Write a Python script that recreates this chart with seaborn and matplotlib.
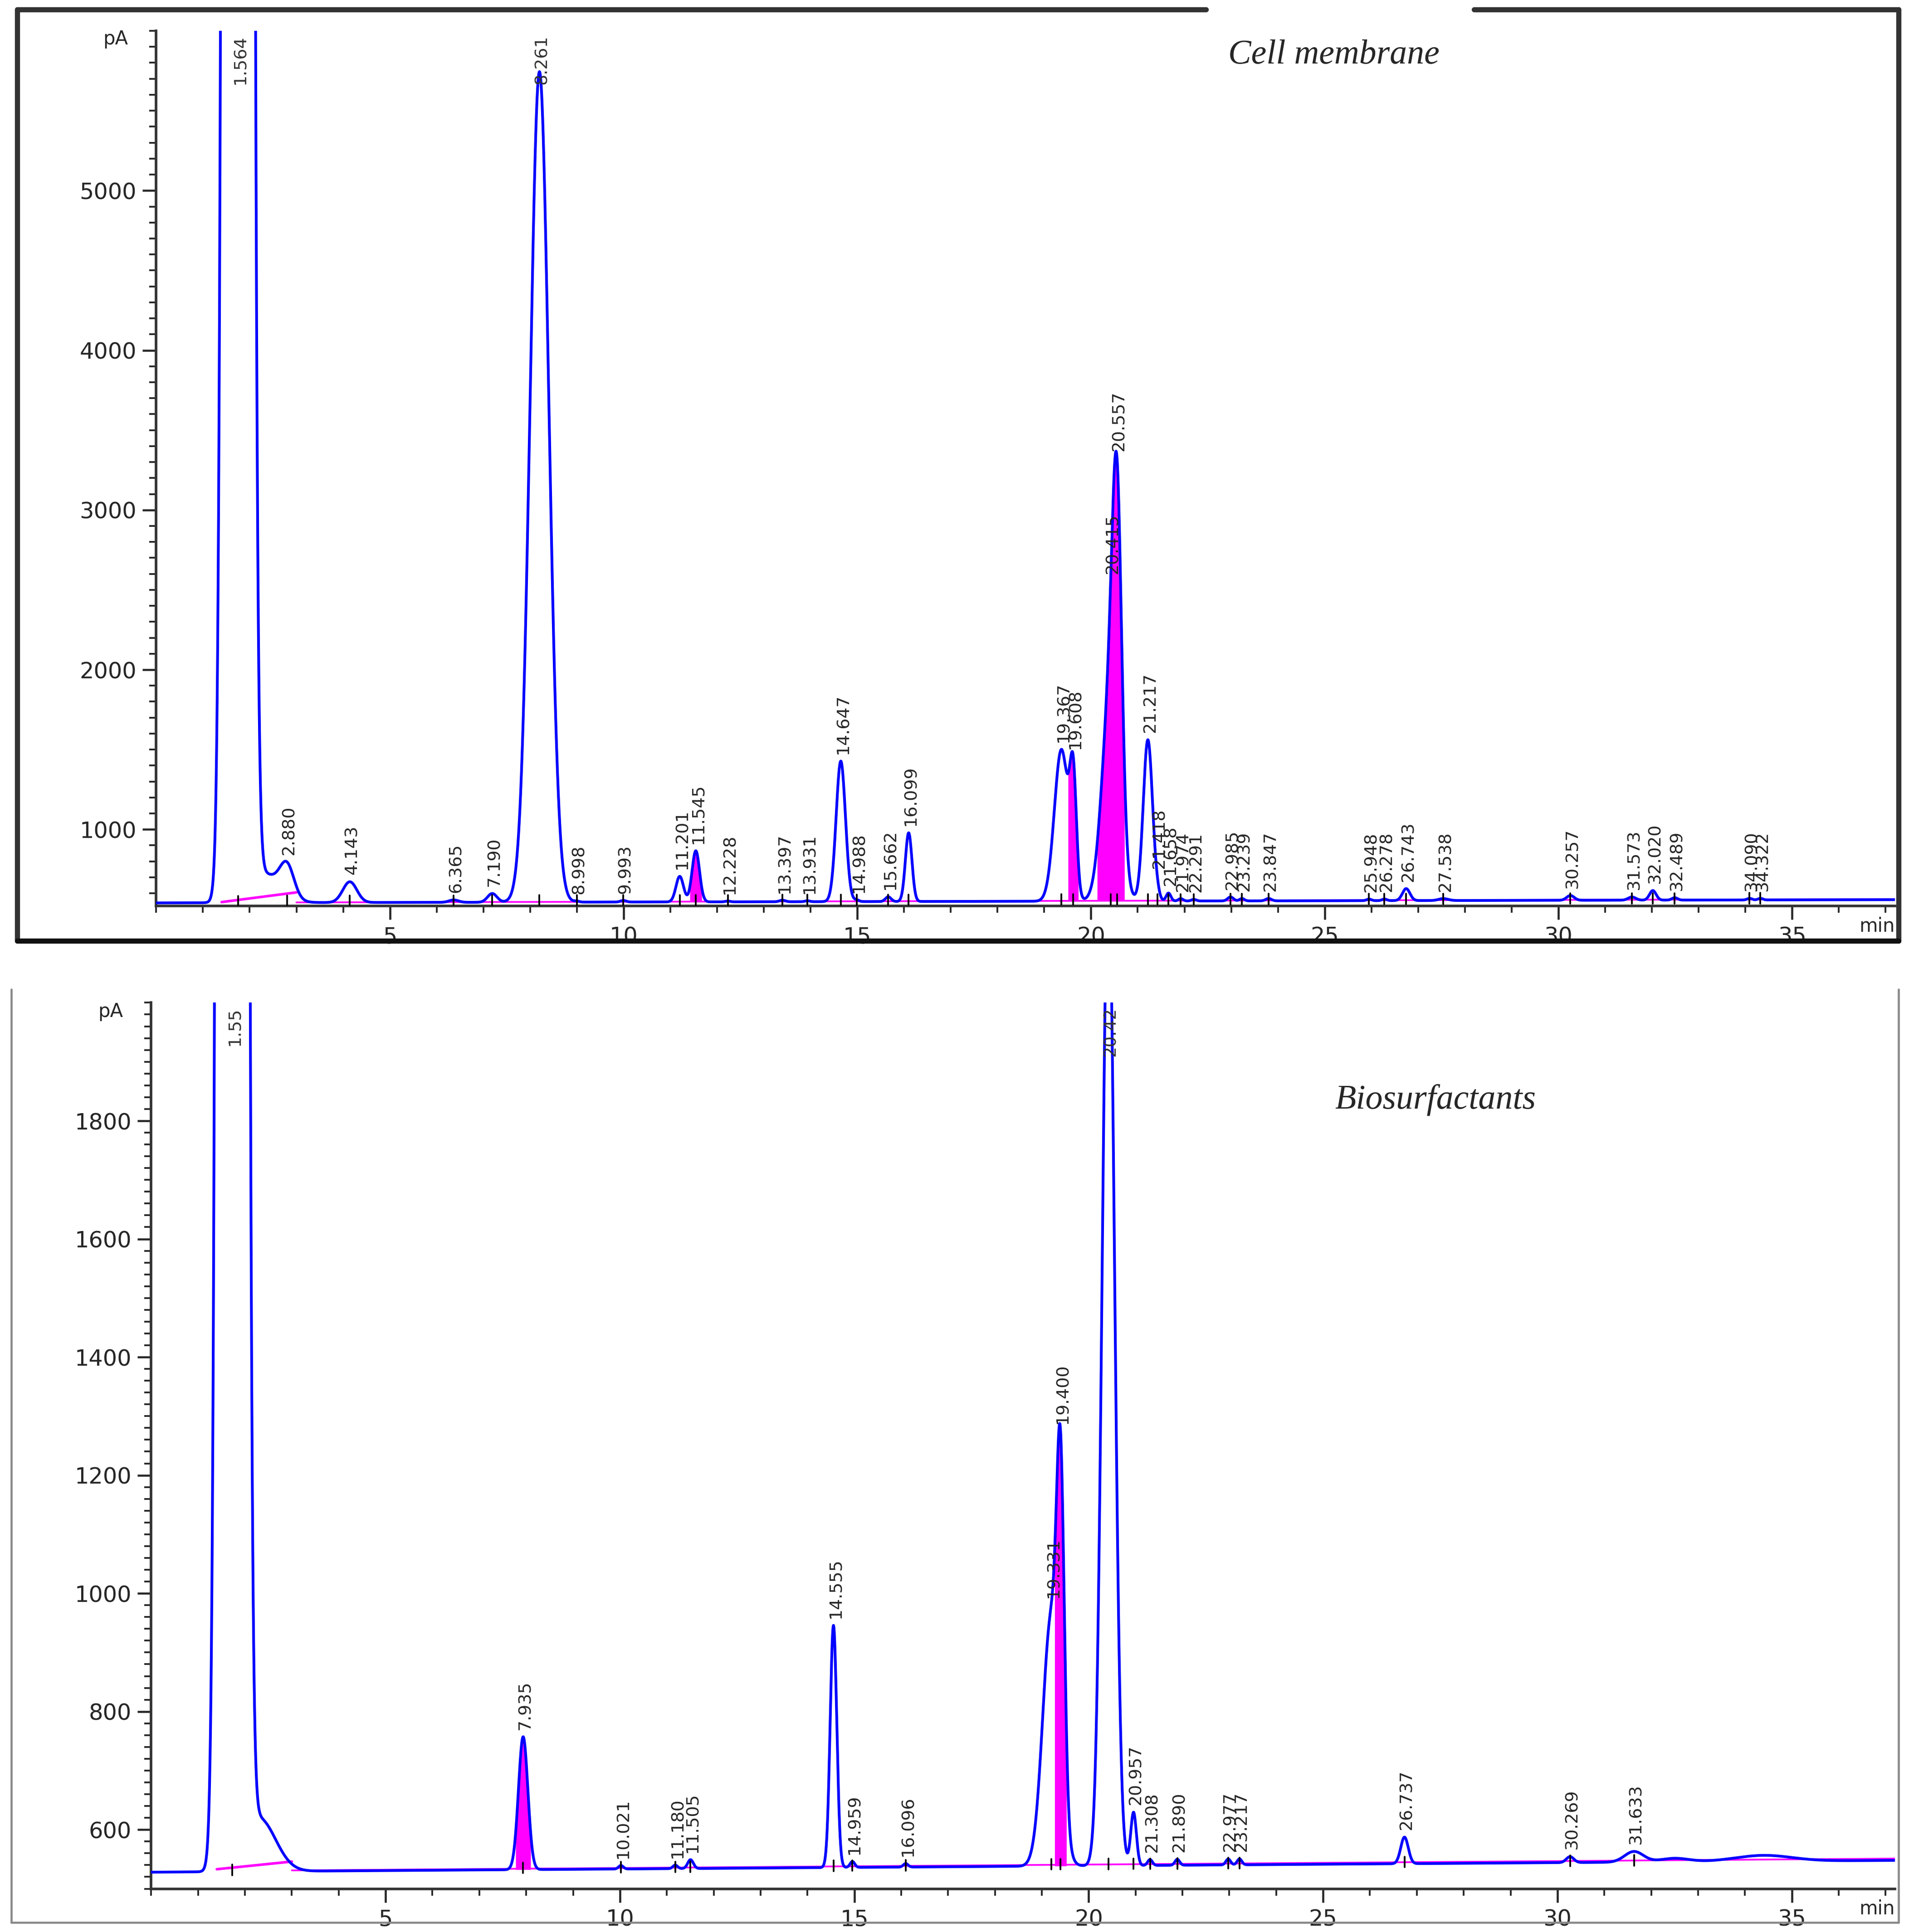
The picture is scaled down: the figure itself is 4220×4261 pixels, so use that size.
import numpy as np
import pandas as pd
import matplotlib
matplotlib.use("Agg")
import matplotlib.pyplot as plt
import seaborn as sns
from matplotlib.ticker import MultipleLocator

sns.set_style("white")
plt.rcParams['font.family'] = ['DejaVu Sans']

# ---- Cell membrane peaks (retention time, height above baseline, width sigma, label, integrated magenta)
cm_rt = [1.75, 2.3, 2.8, 4.143, 6.365, 7.19, 8.2, 8.998, 9.993, 11.201, 11.545, 12.228, 13.397, 13.931,
         14.647, 14.988, 15.662, 16.099, 19.367, 19.62, 20.42, 20.557, 21.217, 21.418, 21.658, 21.92, 22.2,
         22.985, 23.23, 23.8, 25.948, 26.278, 26.743, 27.538, 30.257, 31.573, 32.02, 32.489, 34.09, 34.322]
cm_h = [200000, 180, 190, 130, 15, 55, 5200, 6, 10, 160, 320, 5, 10, 6,
        880, 10, 30, 430, 950, 680, 1300, 1800, 1010, 25, 50, 15, 10,
        25, 15, 15, 10, 10, 75, 12, 30, 20, 60, 15, 10, 10]
cm_w = [0.14, 0.35, 0.15, 0.15, 0.1, 0.1, 0.2, 0.05, 0.06, 0.08, 0.08, 0.05, 0.06, 0.05,
        0.1, 0.05, 0.06, 0.07, 0.15, 0.07, 0.18, 0.1, 0.1, 0.05, 0.05, 0.05, 0.05,
        0.06, 0.05, 0.06, 0.05, 0.05, 0.08, 0.1, 0.08, 0.08, 0.07, 0.06, 0.05, 0.05]
cm_lab = ["1.564", "", "2.880", "4.143", "6.365", "7.190", "8.261", "8.998", "9.993", "11.201", "11.545", "12.228",
          "13.397", "13.931", "14.647", "14.988", "15.662", "16.099", "19.367", "19.608", "20.415", "20.557", "21.217",
          "21.418", "21.658", "21.974", "22.291", "22.985", "23.239", "23.847", "25.948", "26.278", "26.743",
          "27.538", "30.257", "31.573", "32.020", "32.489", "34.090", "34.322"]
cm_mag = [0, 0, 0, 0, 0, 0, 0, 0, 0, 0, 1, 0, 0, 0, 0, 0, 0, 0, 0, 1, 1, 1, 0, 0, 0, 0, 0,
          0, 0, 0, 0, 0, 0, 0, 0, 0, 0, 0, 0, 0]
cm_base = [540, 560]

# ---- Biosurfactants peaks
bs_rt = [1.73, 2.3, 7.935, 10.021, 11.18, 11.505, 14.555, 14.959, 16.096, 19.2, 19.4, 20.42, 20.957,
         21.308, 21.89, 22.977, 23.217, 26.737, 30.269, 31.633, 32.5, 34.4]
bs_h = [60000, 90, 225, 6, 6, 15, 410, 10, 6, 420, 510, 1700, 90,
        10, 10, 10, 10, 45, 10, 18, 6, 10]
bs_w = [0.14, 0.35, 0.1, 0.05, 0.05, 0.06, 0.07, 0.05, 0.05, 0.18, 0.08, 0.13, 0.06,
        0.05, 0.05, 0.05, 0.05, 0.08, 0.08, 0.2, 0.3, 0.6]
bs_lab = ["1.55", "", "7.935", "10.021", "11.180", "11.505", "14.555", "14.959", "16.096", "19.331", "19.400",
          "20.42", "20.957", "21.308", "21.890", "22.977", "23.217", "26.737", "30.269", "31.633", "", ""]
bs_mag = [0, 0, 1, 0, 0, 0, 0, 0, 0, 0, 1, 0, 0, 0, 0, 0, 0, 0, 0, 0, 0, 0]
bs_base = [528, 548]

XMAX = 37.2


def trace(rt, h, w, base, x):
    y = np.interp(x, [0, XMAX], base)
    for r, hh, ww in zip(rt, h, w):
        y = y + hh * np.exp(-0.5 * ((x - r) / ww) ** 2)
    return y


def panel(ax, rt, h, w, lab, mag, base, ylim, yt_major, yt_minor, title, title_xy, ylabel_y):
    x = np.linspace(0, XMAX, 12000)
    y = trace(rt, h, w, base, x)
    df = pd.DataFrame({"t": x, "pA": y})
    yb = np.interp(x, [0, XMAX], base)
    span = ylim[1] - ylim[0]
    for r, ww, m in zip(rt, w, mag):
        if m:
            sel = (x > r - 1.6 * ww) & (x < r + 1.6 * ww)
            ax.fill_between(x[sel], yb[sel], np.minimum(y[sel], ylim[1]), color="#ff00ff", lw=0, zorder=2)
    ax.plot([1.4, 3.0], [base[0] + 5, base[0] + span * 0.012], color="#ff00ff", lw=1.5, zorder=2)
    ax.plot([3.0, XMAX], [base[0] + 3, base[1] + 3], color="#ff00ff", lw=1.0, zorder=2)
    sns.lineplot(data=df, x="t", y="pA", ax=ax, color="#0000ff", lw=1.6, zorder=3)
    for r, hh, ww, l in zip(rt, h, w, lab):
        if not l:
            continue
        top = trace(rt, h, w, base, np.array([r]))[0]
        yb0 = np.interp(r, [0, XMAX], base)
        ax.plot([r, r], [yb0 - span * 0.004, yb0 + span * 0.008], color="black", lw=1.0, zorder=4)
        ty = top + span * 0.008
        if ty > ylim[1] - span * 0.06:
            ax.text(r + 0.05, ylim[1] - span * 0.005, l, rotation=90, ha="center", va="top",
                    fontsize=10, zorder=5, color="#333333")
        else:
            ax.text(r + 0.05, ty, l, rotation=90, ha="center", va="bottom", fontsize=10, zorder=5)
    ax.set_xlim(0, XMAX)
    ax.set_ylim(*ylim)
    ax.xaxis.set_minor_locator(MultipleLocator(1))
    ax.yaxis.set_minor_locator(MultipleLocator(yt_minor))
    ax.set_xticks([5, 10, 15, 20, 25, 30, 35])
    ax.set_yticks([v for v in np.arange(0, ylim[1], yt_major) if v > ylim[0]])
    ax.tick_params(axis="both", which="major", length=8, width=1.2, labelsize=13, direction="out", bottom=True, left=True)
    ax.tick_params(axis="both", which="minor", length=4, width=1.0, direction="out", bottom=True, left=True)
    ax.set_xlabel("")
    ax.set_ylabel("")
    for s in ["top", "right"]:
        ax.spines[s].set_visible(False)
    for s in ["left", "bottom"]:
        ax.spines[s].set_color("#333333")
        ax.spines[s].set_linewidth(1.5)
    ax.text(XMAX, ylim[0] - span * 0.012, "min", ha="right", va="top", fontsize=11)
    ax.text(-0.6, ylabel_y, "pA", ha="right", va="center", fontsize=11)
    ax.text(title_xy[0], title_xy[1], title, fontsize=20, style="italic", family="Liberation Serif", ha="center", va="center")


fig = plt.figure(figsize=(15.45, 15.6), dpi=273.15)
ax1 = fig.add_axes([0.0816, 0.531, 0.9084, 0.453])
ax2 = fig.add_axes([0.079, 0.0224, 0.911, 0.4586])

panel(ax1, cm_rt, cm_h, cm_w, cm_lab, cm_mag, cm_base, (520, 6000), 1000, 100,
      "Cell membrane", (25.2, 5850), 5950)
panel(ax2, bs_rt, bs_h, bs_w, bs_lab, bs_mag, bs_base, (500, 2000), 200, 20,
      "Biosurfactants", (27.4, 1835), 1985)

fig.add_artist(plt.Line2D([0.009, 0.009], [0.513, 0.995], color="#333333", lw=3, transform=fig.transFigure))
fig.add_artist(plt.Line2D([0.992, 0.992], [0.513, 0.995], color="#333333", lw=3, transform=fig.transFigure))
fig.add_artist(plt.Line2D([0.009, 0.992], [0.513, 0.513], color="#111111", lw=3, transform=fig.transFigure))
fig.add_artist(plt.Line2D([0.009, 0.63], [0.995, 0.995], color="#333333", lw=3, transform=fig.transFigure))
fig.add_artist(plt.Line2D([0.77, 0.992], [0.995, 0.995], color="#333333", lw=3, transform=fig.transFigure))
fig.add_artist(plt.Line2D([0.006, 0.006], [0.005, 0.488], color="#888888", lw=1.2, transform=fig.transFigure))
fig.add_artist(plt.Line2D([0.992, 0.992], [0.005, 0.488], color="#888888", lw=1.2, transform=fig.transFigure))
fig.add_artist(plt.Line2D([0.006, 0.992], [0.005, 0.005], color="#888888", lw=1.2, transform=fig.transFigure))

fig.savefig("out.png", dpi=273.15, facecolor="white")
